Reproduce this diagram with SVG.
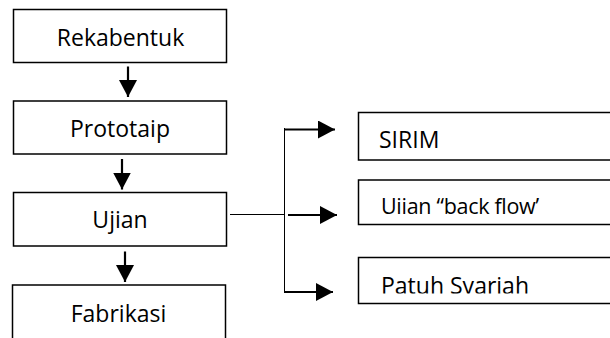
<svg xmlns="http://www.w3.org/2000/svg" width="610" height="338" viewBox="0 0 610 338">
<style>
.box{fill:#fff;stroke:#000;stroke-width:1.5}
.t{font-family:"Open Sans","Noto Sans",sans-serif;font-size:23px;fill:#000}
.c{text-anchor:middle}
.thin{stroke:#000;stroke-width:1;fill:none}
.thick{stroke:#000;stroke-width:2.2;fill:none}
</style>
<defs>
<marker id="ah" markerUnits="userSpaceOnUse" markerWidth="17" markerHeight="18" refX="17" refY="9" orient="auto">
<path d="M0,0 L17,9 L0,18 Z" fill="#000"/>
</marker>
<clipPath id="clip2"><rect x="358" y="180" width="260" height="34"/></clipPath>
<clipPath id="clip3"><rect x="358" y="257" width="260" height="36.5"/></clipPath>
</defs>
<rect x="0" y="0" width="610" height="338" fill="#fff"/>
<g id="rekabentuk">
<rect class="box" x="13.5" y="9.5" width="213" height="53"/>
<text class="t c" x="120.5" y="46">Rekabentuk</text>
</g>
<g id="prototaip">
<rect class="box" x="13.5" y="101" width="213" height="53"/>
<text class="t c" x="120" y="137">Prototaip</text>
</g>
<g id="ujian">
<rect class="box" x="13.5" y="192.5" width="213" height="53.5"/>
<text class="t c" x="120" y="228">Ujian</text>
</g>
<g id="fabrikasi">
<rect class="box" x="12.5" y="285" width="213" height="60"/>
<text class="t c" x="118.5" y="322">Fabrikasi</text>
</g>
<g id="sirim">
<rect class="box" x="358.5" y="112.5" width="262" height="47.5"/>
<text class="t" x="379" y="148">SIRIM</text>
</g>
<g id="backflow">
<rect class="box" x="358.5" y="180" width="262" height="44.5"/>
<text class="t" x="381" y="213.5" style="font-size:21.5px;letter-spacing:-0.3px" clip-path="url(#clip2)">Ujian “back flow’</text>
</g>
<g id="syariah">
<rect class="box" x="358.5" y="257.5" width="262" height="46"/>
<text class="t" x="381" y="293.5" clip-path="url(#clip3)">Patuh Syariah</text>
</g>
<g id="connectors">
<line class="thick" x1="128" y1="66.5" x2="128" y2="97" marker-end="url(#ah)"/>
<line class="thick" x1="122" y1="159" x2="122" y2="189.5" marker-end="url(#ah)"/>
<line class="thick" x1="125" y1="251.5" x2="125" y2="282" marker-end="url(#ah)"/>
<line class="thin" x1="230" y1="214.5" x2="284.5" y2="214.5"/>
<line class="thin" x1="284.5" y1="128" x2="284.5" y2="292.5"/>
<line class="thick" x1="285" y1="129.5" x2="335" y2="129.5" marker-end="url(#ah)"/>
<line class="thick" x1="288" y1="215" x2="337" y2="215" marker-end="url(#ah)"/>
<line class="thick" x1="284" y1="292" x2="333" y2="292" marker-end="url(#ah)"/>
</g>
</svg>
